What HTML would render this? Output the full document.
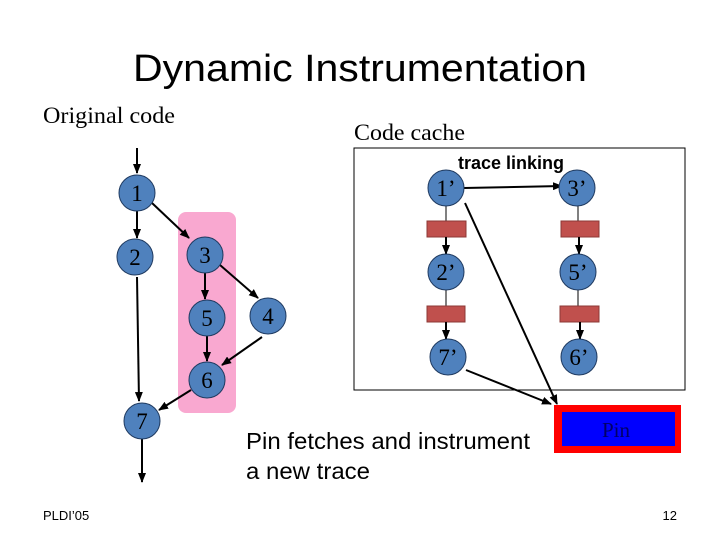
<!DOCTYPE html>
<html><head><style>body{margin:0;background:#fff}svg{display:block}</style></head><body>
<svg width="720" height="540" viewBox="0 0 720 540" xmlns="http://www.w3.org/2000/svg">
<defs><marker id="a" markerWidth="10" markerHeight="8" refX="9" refY="4" orient="auto" markerUnits="userSpaceOnUse"><path d="M0,0 L10,4 L0,8 z" fill="#000"/></marker></defs>
<text x="360" y="81" text-anchor="middle" font-family="Liberation Sans, sans-serif" font-size="38" textLength="454" lengthAdjust="spacingAndGlyphs">Dynamic Instrumentation</text>
<text x="43" y="123" font-family="Liberation Serif, serif" font-size="23" textLength="132" lengthAdjust="spacingAndGlyphs">Original code</text>
<text x="354" y="140" font-family="Liberation Serif, serif" font-size="23" textLength="111" lengthAdjust="spacingAndGlyphs">Code cache</text>
<rect x="178" y="212" width="58" height="201" rx="8" fill="#f9a8d0"/>
<g stroke="#000" stroke-width="2" fill="none" marker-end="url(#a)">
<line x1="137" y1="148" x2="137" y2="173"/>
<line x1="137" y1="211" x2="137" y2="238"/>
<line x1="152" y1="203" x2="189" y2="238"/>
<line x1="137" y1="277" x2="139" y2="401"/>
<line x1="205" y1="273" x2="205" y2="299"/>
<line x1="220" y1="265" x2="258" y2="298"/>
<line x1="207" y1="336" x2="207" y2="361"/>
<line x1="262" y1="337" x2="222" y2="365"/>
<line x1="191" y1="390" x2="159" y2="410"/>
<line x1="142" y1="439" x2="142" y2="482"/>
</g>
<g fill="#4f81bd" stroke="#1f3a60" stroke-width="1">
<circle cx="137" cy="193" r="18"/><circle cx="135" cy="257" r="18"/><circle cx="205" cy="255" r="18"/>
<circle cx="207" cy="318" r="18"/><circle cx="268" cy="316" r="18"/><circle cx="207" cy="380" r="18"/><circle cx="142" cy="421" r="18"/>
</g>
<g font-family="Liberation Serif, serif" font-size="23" text-anchor="middle">
<text x="137" y="201">1</text><text x="135" y="265">2</text><text x="205" y="263">3</text><text x="207" y="326">5</text><text x="268" y="324">4</text><text x="207" y="388">6</text><text x="142" y="429">7</text>
</g>
<rect x="354" y="148" width="331" height="242" fill="none" stroke="#000" stroke-width="1"/>
<text x="511" y="169" text-anchor="middle" font-family="Liberation Sans, sans-serif" font-weight="bold" font-size="18">trace linking</text>
<g stroke="#000" stroke-width="1"><line x1="446" y1="205" x2="446" y2="222"/><line x1="446" y1="290" x2="446" y2="307"/><line x1="578" y1="205" x2="578" y2="222"/><line x1="578" y1="290" x2="578" y2="307"/></g>
<g fill="#c0504d" stroke="#8c3836" stroke-width="1">
<rect x="427" y="221" width="39" height="16"/><rect x="427" y="306" width="38" height="16"/>
<rect x="561" y="221" width="38" height="16"/><rect x="560" y="306" width="39" height="16"/>
</g>
<g stroke="#000" stroke-width="2" fill="none" marker-end="url(#a)">
<line x1="446" y1="237" x2="446" y2="254"/><line x1="446" y1="322" x2="446" y2="339"/>
<line x1="579" y1="237" x2="579" y2="254"/><line x1="580" y1="322" x2="580" y2="339"/>
<line x1="464" y1="188" x2="562" y2="186"/>
<line x1="465" y1="203" x2="557" y2="404"/>
<line x1="466" y1="370" x2="551" y2="404"/>
</g>
<g fill="#4f81bd" stroke="#1f3a60" stroke-width="1">
<circle cx="446" cy="188" r="18"/><circle cx="577" cy="188" r="18"/><circle cx="446" cy="272" r="18"/>
<circle cx="578" cy="272" r="18"/><circle cx="448" cy="357" r="18"/><circle cx="579" cy="357" r="18"/>
</g>
<g font-family="Liberation Serif, serif" font-size="23" text-anchor="middle">
<text x="446" y="196">1’</text><text x="577" y="196">3’</text><text x="446" y="280">2’</text><text x="578" y="280">5’</text><text x="448" y="365">7’</text><text x="579" y="365">6’</text>
</g>
<rect x="554" y="405" width="127" height="48" fill="#ff0000"/>
<rect x="562" y="412" width="113" height="34" fill="#0000ff"/>
<text x="616" y="437" text-anchor="middle" font-family="Liberation Serif, serif" font-size="21" fill="#000066">Pin</text>
<text x="246" y="449" font-family="Liberation Sans, sans-serif" font-size="23" textLength="284" lengthAdjust="spacingAndGlyphs">Pin fetches and instrument</text>
<text x="246" y="479" font-family="Liberation Sans, sans-serif" font-size="23" textLength="124" lengthAdjust="spacingAndGlyphs">a new trace</text>
<text x="43" y="520" font-family="Liberation Sans, sans-serif" font-size="13">PLDI’05</text>
<text x="677" y="520" text-anchor="end" font-family="Liberation Sans, sans-serif" font-size="13">12</text>
</svg>
</body></html>
